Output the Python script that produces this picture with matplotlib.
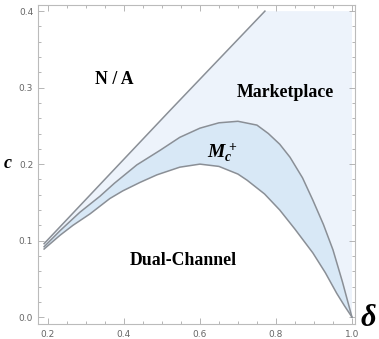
import matplotlib
matplotlib.use("Agg")
import matplotlib.pyplot as plt
from matplotlib.ticker import MultipleLocator
import numpy as np

plt.rcParams["mathtext.fontset"] = "custom"
plt.rcParams["mathtext.it"] = "Liberation Serif:italic:bold"
plt.rcParams["mathtext.rm"] = "Liberation Serif:bold"
plt.rcParams["mathtext.bf"] = "Liberation Serif:italic:bold"

# boundary between N/A and Marketplace
upper_x = [0.19, 0.363, 0.521, 0.771]
upper_y = [0.096, 0.187, 0.270, 0.400]

# upper boundary of M_c^+ region
mid_x = [0.19, 0.232, 0.284, 0.337, 0.375, 0.434, 0.495, 0.547, 0.60, 0.65, 0.70, 0.75, 0.78, 0.81, 0.837, 0.87, 0.897, 0.925, 0.95, 0.975, 1.0]
mid_y = [0.092, 0.113, 0.137, 0.158, 0.175, 0.199, 0.218, 0.235, 0.247, 0.254, 0.256, 0.251, 0.240, 0.226, 0.209, 0.182, 0.153, 0.121, 0.088, 0.046, 0.0]

# lower boundary (Dual-Channel)
low_x = [0.19, 0.232, 0.266, 0.311, 0.363, 0.397, 0.442, 0.487, 0.547, 0.60, 0.65, 0.70, 0.724, 0.77, 0.81, 0.85, 0.897, 0.93, 0.96, 0.98, 1.0]
low_y = [0.089, 0.107, 0.120, 0.135, 0.155, 0.165, 0.176, 0.186, 0.196, 0.200, 0.197, 0.187, 0.179, 0.161, 0.140, 0.115, 0.084, 0.058, 0.031, 0.015, 0.0]

x_ticks = [0.2, 0.4, 0.6, 0.8, 1.0]
y_ticks = [0.0, 0.1, 0.2, 0.3, 0.4]

fig = plt.figure(figsize=(3.79, 3.39), dpi=100)
ax = fig.add_axes([38/379, 1 - 324/339, (355-38)/379, (324-5)/339])
xmin, xmax = 0.174, 1.008
ymin, ymax = -0.009, 0.408
ax.set_xlim(xmin, xmax)
ax.set_ylim(ymin, ymax)
x_end, y_end = 1.0, 0.4

light = "#edf3fb"
mid = "#d8e8f6"
linec = "#8a8f96"

ux = np.array(upper_x); uy = np.array(upper_y)
mx = np.array(mid_x); my = np.array(mid_y)
lx = np.array(low_x); ly = np.array(low_y)

# Marketplace region
poly_x = list(ux) + [x_end, x_end] + list(mx[::-1])
poly_y = list(uy) + [y_end, 0.0] + list(my[::-1])
ax.fill(poly_x, poly_y, color=light, lw=0, zorder=1)

# M_c^+ region
ax.fill(list(mx) + list(lx[::-1]), list(my) + list(ly[::-1]), color=mid, lw=0, zorder=2)

ax.plot(ux, uy, color=linec, lw=1.1, zorder=3)
ax.plot(mx, my, color=linec, lw=1.1, zorder=3)
ax.plot(lx, ly, color=linec, lw=1.1, zorder=3)

ax.set_xticks(x_ticks)
ax.set_yticks(y_ticks)
ax.set_xticklabels([f"{v:.1f}" for v in x_ticks])
ax.set_yticklabels([f"{v:.1f}" for v in y_ticks])
ax.xaxis.set_minor_locator(MultipleLocator(0.05))
ax.yaxis.set_minor_locator(MultipleLocator(0.02))
ax.tick_params(which="both", direction="in", top=True, right=True, color="#aaaaaa",
               labelsize=6.5, labelcolor="#666666", width=0.6)
ax.tick_params(which="major", length=4)
ax.tick_params(which="minor", length=2)
ax.tick_params(axis="x", pad=4)
for s in ax.spines.values():
    s.set_color("#bbbbbb")
    s.set_linewidth(0.8)

serif = "Liberation Serif"
fs = 12.8
ax.text(0.374, 0.310, "N / A", fontfamily=serif, fontweight="bold", fontsize=fs, ha="center", va="center")
ax.text(0.824, 0.293, "Marketplace", fontfamily=serif, fontweight="bold", fontsize=fs, ha="center", va="center")
ax.text(0.658, 0.214, "$M_c^+$", fontsize=14, ha="center", va="center")
ax.text(0.555, 0.0745, "Dual-Channel", fontfamily=serif, fontweight="bold", fontsize=fs, ha="center", va="center")

fig.text(8/379, 1 - 163/339, "c", fontfamily=serif, fontweight="bold", fontstyle="italic", fontsize=13,
         ha="center", va="center")
fig.text(368/379, 1 - 318/339, "δ", fontfamily=serif, fontweight="bold", fontstyle="italic", fontsize=22,
         ha="center", va="center")

fig.savefig("out.png", dpi=100)
